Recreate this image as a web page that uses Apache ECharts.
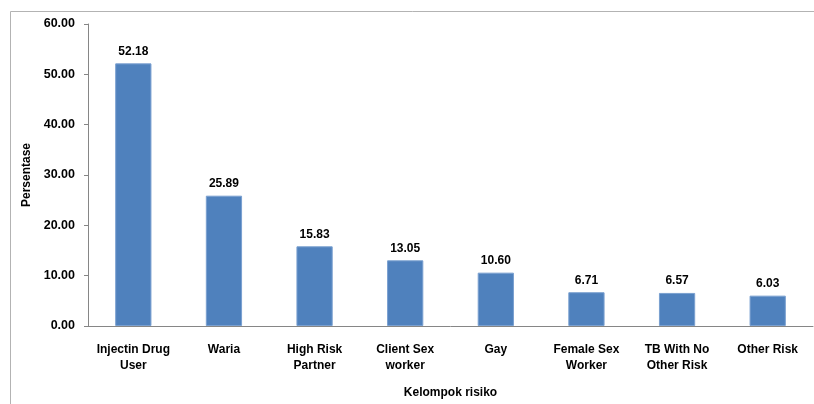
<!DOCTYPE html>
<html><head><meta charset="utf-8">
<script src="https://cdn.jsdelivr.net/npm/echarts@6/dist/echarts.min.js"></script>
<style>html,body{margin:0;padding:0;background:#fff}#c{width:814px;height:404px}</style>
</head><body><div id="c"></div>
<script>
var categories = ['Injectin Drug\nUser','Waria','High Risk\nPartner','Client Sex\nworker','Gay','Female Sex\nWorker','TB With No\nOther Risk','Other Risk'];
var values = [52.18, 25.89, 15.83, 13.05, 10.60, 6.71, 6.57, 6.03];
var yTicks = {min: 0, max: 60, interval: 10};
var font = '"Liberation Sans", Arial, sans-serif';
var chart = echarts.init(document.getElementById('c'), null, {renderer:'canvas'});
chart.setOption({
  animation:false,
  graphic:[{type:'rect', shape:{x:10.5,y:11.5,width:820,height:420}, style:{fill:'none', stroke:'#b3b3b3', lineWidth:1}, silent:true}],
  grid:{left:88, right:1, top:24, bottom:76},
  xAxis:{type:'category', data:categories,
    name:'Kelompok risiko', nameLocation:'middle', nameGap:61,
    nameTextStyle:{fontFamily:font, fontWeight:'bold', fontSize:12, color:'#000', padding:[0,0,0,0]},
    axisLine:{lineStyle:{color:'#868686'}}, axisTick:{show:false},
    axisLabel:{fontFamily:font, fontWeight:'bold', fontSize:12, color:'#000', margin:16, lineHeight:16, interval:0}},
  yAxis:{type:'value', min:yTicks.min, max:yTicks.max, interval:yTicks.interval,
    name:'Persentase', nameLocation:'middle', nameGap:48, nameRotate:90,
    nameTextStyle:{fontFamily:font, fontWeight:'bold', fontSize:12, color:'#000'},
    axisLine:{show:true, lineStyle:{color:'#868686'}}, axisTick:{show:true, length:4, lineStyle:{color:'#868686'}},
    splitLine:{show:false},
    axisLabel:{fontFamily:font, fontWeight:'bold', fontSize:12.5, color:'#000', margin:13, formatter:function(v){return v.toFixed(2);}}},
  series:[{type:'bar', data:values, barWidth:'40%',
    itemStyle:{color:'#4F81BD', borderColor:'#7aa0d0', borderWidth:1},
    label:{show:true, position:'top', distance:6, fontFamily:font, fontWeight:'bold', fontSize:12, color:'#000', formatter:function(p){return p.value.toFixed(2);}}}]
});
</script></body></html>
